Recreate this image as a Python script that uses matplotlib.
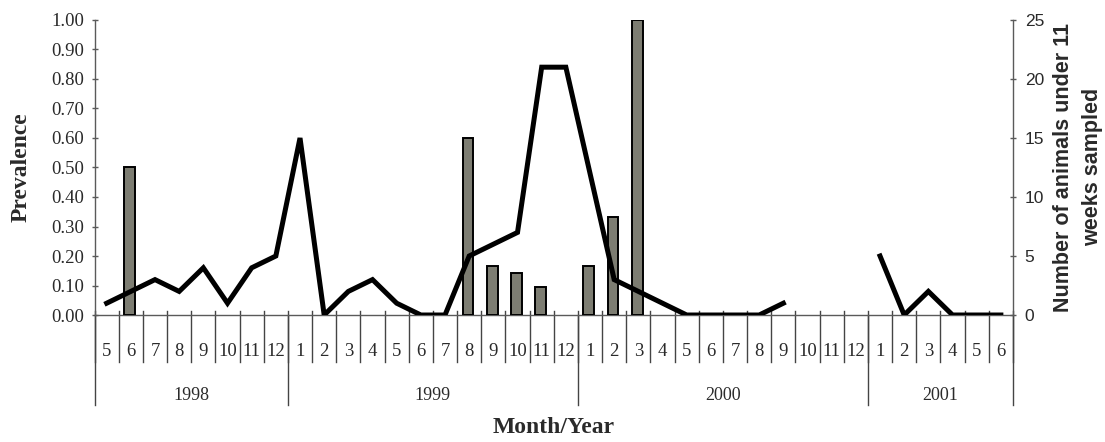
import numpy as np
import matplotlib
matplotlib.use("Agg")
import matplotlib.pyplot as plt
import matplotlib.transforms as mtransforms

nan = np.nan

# months from 5/1998 to 6/2001
month_labels = ['5', '6', '7', '8', '9', '10', '11', '12',
                '1', '2', '3', '4', '5', '6', '7', '8', '9', '10', '11', '12',
                '1', '2', '3', '4', '5', '6', '7', '8', '9', '10', '11', '12',
                '1', '2', '3', '4', '5', '6']
year_labels = ['1998', '1999', '2000', '2001']
months_per_year = [8, 12, 12, 6]

prevalence = [nan, 0.50, nan, nan, nan, nan, nan, nan,
              nan, nan, nan, nan, nan, nan, nan, 0.60, 0.167, 0.143, 0.095, nan,
              0.167, 0.333, 1.00, nan, nan, nan, nan, nan, nan, nan, nan, nan,
              nan, nan, nan, nan, nan, nan]

animals = [1, 2, 3, 2, 4, 1, 4, 5,
           15, 0, 2, 3, 1, 0, 0, 5, 6, 7, 21, 21,
           12, 3, 2, 1, 0, 0, 0, 0, 1, nan, nan, nan,
           5, 0, 2, 0, 0, 0]

serif = 'Liberation Serif'
sans = 'Liberation Sans'
grey = '#5a5a5a'
txt = '#2a2a2a'

fig = plt.figure(figsize=(11.05, 4.42), dpi=100)
ax = fig.add_axes([0.0856, 0.2873, 0.8311, 0.6675])
ax2 = ax.twinx()

x = np.arange(len(month_labels))
prev = np.array(prevalence)
has_bar = ~np.isnan(prev)
ax.bar(x[has_bar] - 0.05, prev[has_bar], width=0.45, color='#7d7d72',
       edgecolor='black', linewidth=1.4, zorder=3)

ax2.plot(x, animals, color='black', linewidth=3.6, solid_joinstyle='miter', zorder=4)

ax.set_xlim(-0.5, len(month_labels) - 0.5)
ax.set_ylim(0, 1.0)
ax2.set_ylim(0, 25)

ax.set_yticks(np.arange(0, 1.01, 0.1))
ax.set_yticklabels(['%.2f' % v for v in np.arange(0, 1.01, 0.1)],
                   fontfamily=serif, fontsize=13.5, color=txt)
ax2.set_yticks([0, 5, 10, 15, 20, 25])
ax2.set_yticklabels(['0', '5', '10', '15', '20', '25'],
                    fontfamily=sans, fontsize=12.5, color=txt)
ax.tick_params(axis='y', direction='inout', length=5, width=1, color=grey, pad=5)
ax2.tick_params(axis='y', direction='inout', length=5, width=1, color=grey, pad=6)
ax.set_xticks([])

for a in (ax, ax2):
    a.spines['top'].set_visible(False)
    for s in ('left', 'right', 'bottom'):
        a.spines[s].set_color(grey)
        a.spines[s].set_linewidth(1)
ax.spines['right'].set_visible(False)
ax2.spines['left'].set_visible(False)
ax2.spines['bottom'].set_visible(False)

# month / year category axis drawn by hand below the plot
trans = mtransforms.blended_transform_factory(ax.transData, ax.transAxes)
for b in np.arange(len(month_labels) + 1) - 0.5:
    ax.plot([b, b], [0.015, -0.16], color='#444444', lw=1, transform=trans, clip_on=False)
for i, m in enumerate(month_labels):
    ax.text(i, -0.125, m, transform=trans, ha='center', va='center',
            fontfamily=serif, fontsize=13.5, color=txt)

start = -0.5
for yl, n in zip(year_labels, months_per_year):
    ax.plot([start, start], [0, -0.305], color='#444444', lw=1, transform=trans, clip_on=False)
    ax.text(start + n / 2, -0.272, yl, transform=trans, ha='center', va='center',
            fontfamily=serif, fontsize=13, color=txt)
    start += n
ax.plot([start, start], [0, -0.305], color='#444444', lw=1, transform=trans, clip_on=False)

fig.text(0.501, 0.032, 'Month/Year', ha='center', va='center',
         fontfamily=serif, fontsize=17, fontweight='bold', color=txt)
fig.text(0.019, 0.622, 'Prevalence', rotation=90, ha='center', va='center',
         fontfamily=serif, fontsize=17, fontweight='bold', color=txt)
fig.text(0.976, 0.622, 'Number of animals under 11\nweeks sampled', rotation=90,
         ha='center', va='center', multialignment='center',
         fontfamily=sans, fontsize=15.5, fontweight='bold', color=txt, linespacing=1.5)

fig.savefig('out.png', dpi=100)
